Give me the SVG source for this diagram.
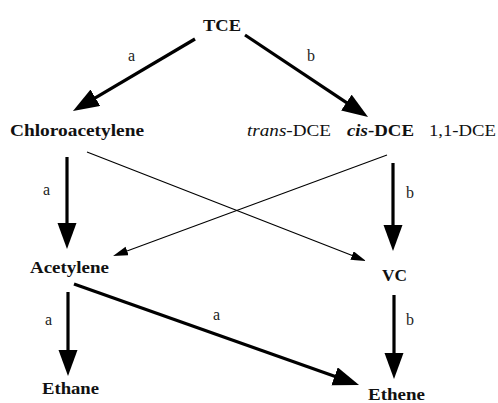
<svg xmlns="http://www.w3.org/2000/svg" width="498" height="403" viewBox="0 0 498 403">
<style>
text{font-family:"Liberation Serif","Liberation Sans",Arial,sans-serif;font-size:17px;fill:#111}
.n{font-weight:bold}
.lbl{font-size:16px;fill:#222}
.thick{stroke:#000;stroke-width:3.2;fill:none;marker-end:url(#big)}
.thin{stroke:#000;stroke-width:1.1;fill:none;marker-end:url(#small)}
</style>
<defs>
<marker id="big" markerUnits="userSpaceOnUse" markerWidth="30" markerHeight="22" refX="6" refY="9.5" orient="auto">
<path d="M0,0 L26,9.5 L0,19 z" fill="#000"/>
</marker>
<marker id="small" markerUnits="userSpaceOnUse" markerWidth="18" markerHeight="12" refX="3" refY="4.5" orient="auto">
<path d="M0,0 L15,4.5 L0,9 z" fill="#000"/>
</marker>
</defs>
<rect width="498" height="403" fill="#fff"/>
<g id="connectors">
<line class="thick" x1="195" y1="39" x2="90.2" y2="100.8"/>
<line class="thick" x1="245" y1="35" x2="351.4" y2="105.9"/>
<line class="thick" x1="67" y1="157" x2="67" y2="229"/>
<line class="thick" x1="393" y1="163" x2="393" y2="231"/>
<line class="thick" x1="68" y1="292" x2="68" y2="356"/>
<line class="thick" x1="394" y1="295" x2="394" y2="359"/>
<line class="thick" x1="74" y1="284" x2="340.2" y2="378.3"/>
<line class="thin" x1="87" y1="152" x2="354.8" y2="256.6"/>
<line class="thin" x1="387" y1="155" x2="124.3" y2="251.9"/>
<text class="lbl" x="128" y="61">a</text>
<text class="lbl" x="307" y="61">b</text>
<text class="lbl" x="43" y="195">a</text>
<text class="lbl" x="406" y="198">b</text>
<text class="lbl" x="45" y="325">a</text>
<text class="lbl" x="213" y="320">a</text>
<text class="lbl" x="406" y="325">b</text>
</g>
<g id="tce"><text class="n" x="203" y="31" textLength="38" lengthAdjust="spacingAndGlyphs">TCE</text></g>
<g id="chloroacetylene"><text class="n" x="10" y="136" textLength="134" lengthAdjust="spacingAndGlyphs">Chloroacetylene</text></g>
<g id="trans-dce"><text x="247" y="136" textLength="84" lengthAdjust="spacingAndGlyphs"><tspan font-style="italic">trans</tspan>-DCE</text></g>
<g id="cis-dce"><text class="n" x="347" y="136" textLength="67" lengthAdjust="spacingAndGlyphs"><tspan font-style="italic">cis</tspan>-DCE</text></g>
<g id="dce11"><text x="429" y="136" textLength="67" lengthAdjust="spacingAndGlyphs">1,1-DCE</text></g>
<g id="acetylene"><text class="n" x="30" y="273" textLength="79" lengthAdjust="spacingAndGlyphs">Acetylene</text></g>
<g id="vc"><text class="n" x="382" y="281" textLength="25" lengthAdjust="spacingAndGlyphs">VC</text></g>
<g id="ethane"><text class="n" x="42" y="394" textLength="57" lengthAdjust="spacingAndGlyphs">Ethane</text></g>
<g id="ethene"><text class="n" x="368" y="400" textLength="57" lengthAdjust="spacingAndGlyphs">Ethene</text></g>
</svg>
